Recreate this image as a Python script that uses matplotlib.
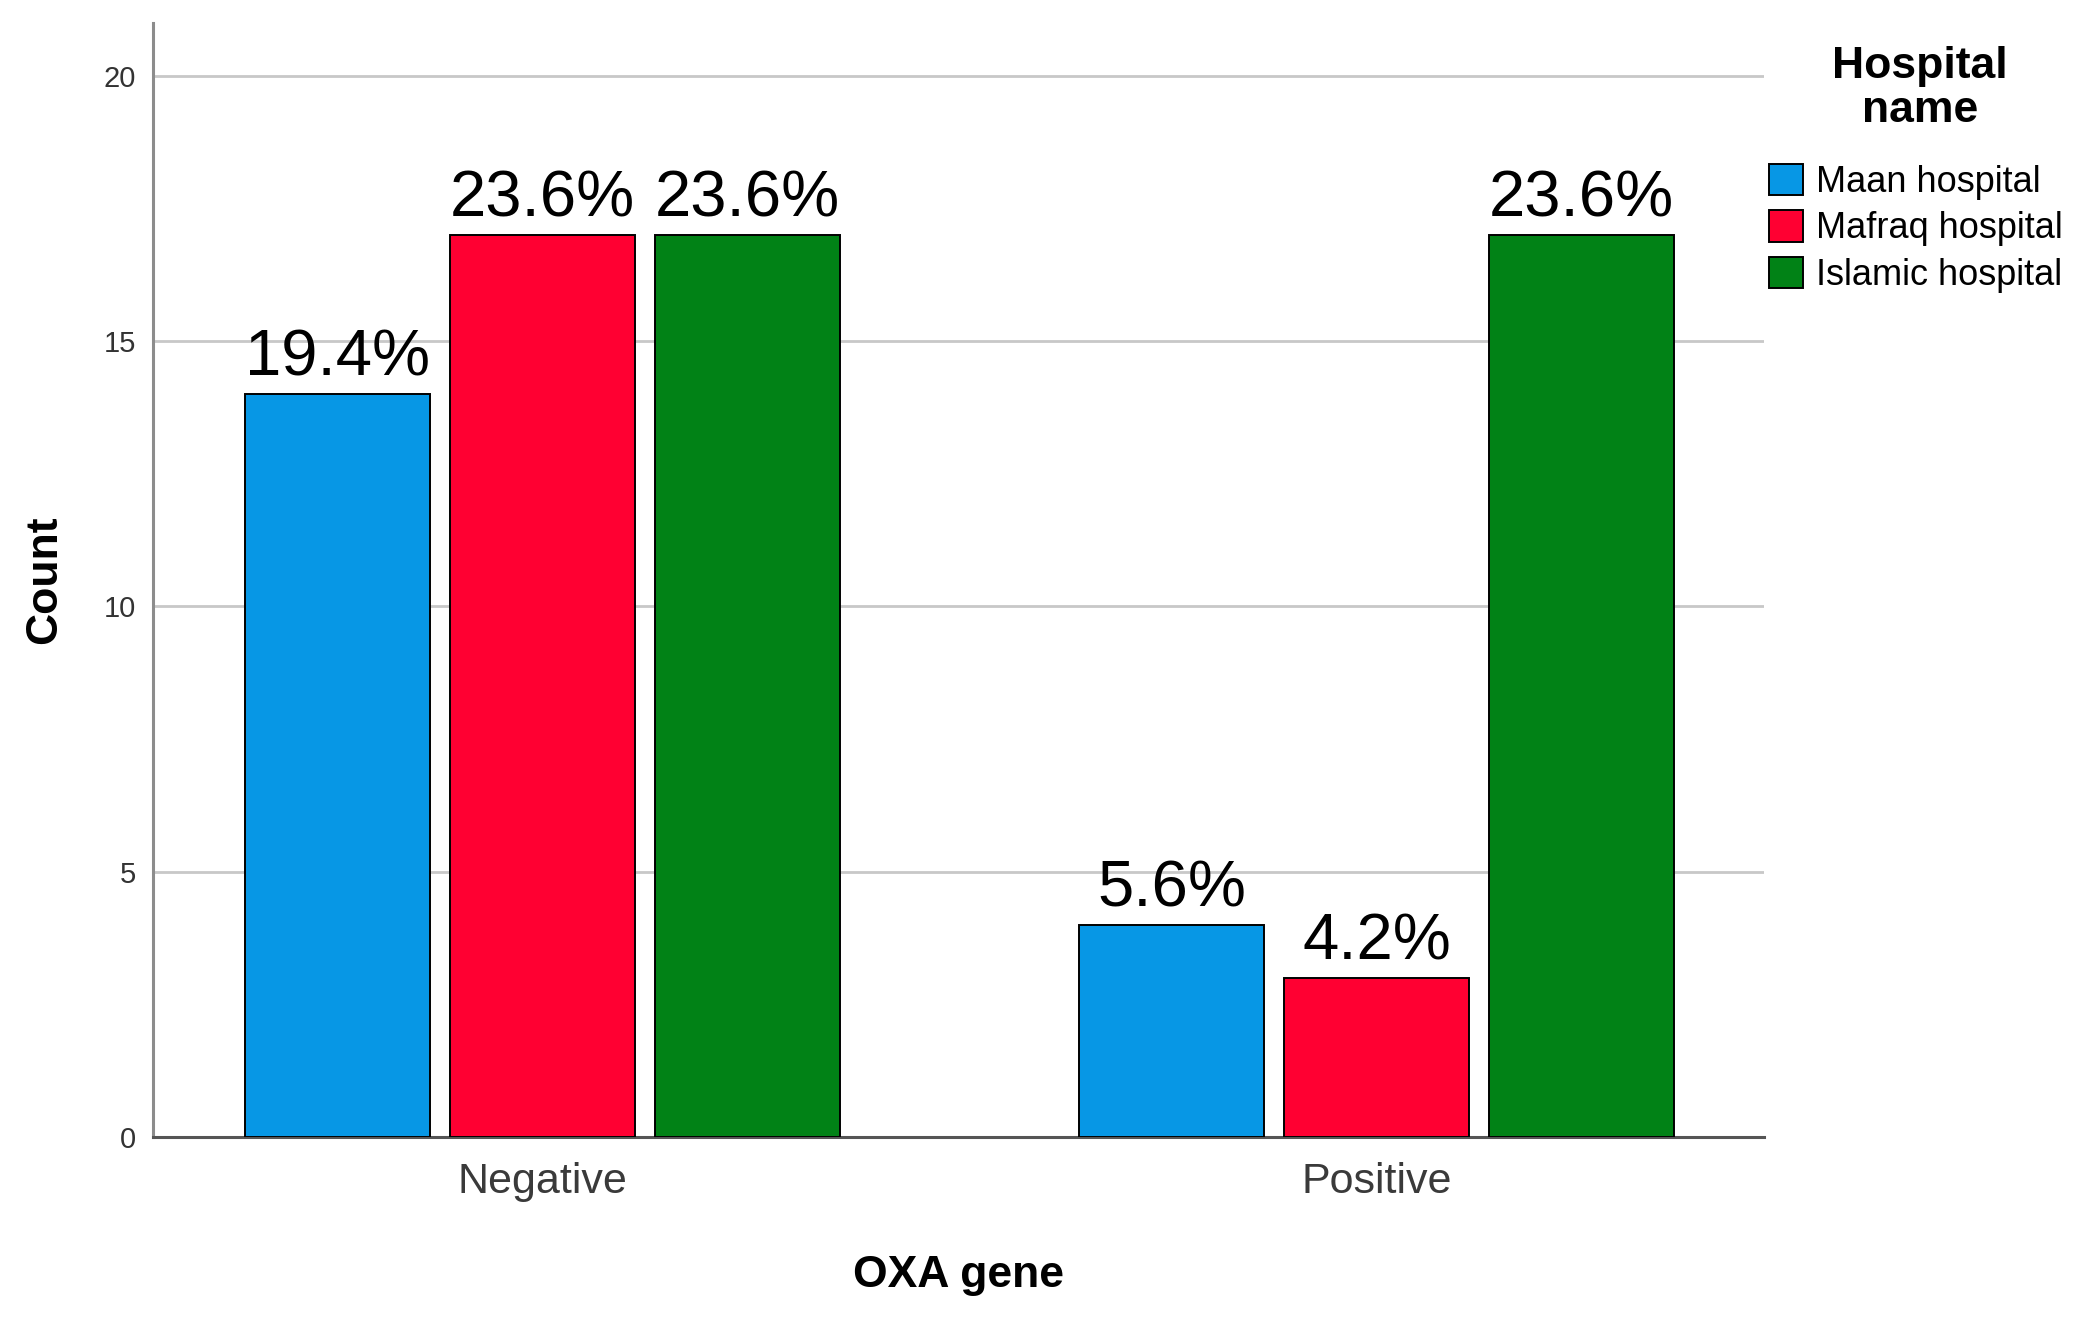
import numpy as np
import matplotlib
matplotlib.use("Agg")
import matplotlib.pyplot as plt
from matplotlib.patches import Patch

plt.rcParams['font.family'] = ['Liberation Sans', 'DejaVu Sans']

# data
categories = ["Negative", "Positive"]
hospitals = ["Maan hospital", "Mafraq hospital", "Islamic hospital"]
maan = [14, 4]
mafraq = [17, 3]
islamic = [17, 17]
pct_labels = [["19.4%", "5.6%"], ["23.6%", "4.2%"], ["23.6%", "23.6%"]]
colors = ["#0797E5", "#FF0032", "#018216"]

fig = plt.figure(figsize=(20.86, 13.19), dpi=100)
ax = fig.add_axes([0.0733, 0.138, 0.7723, 0.8446])

x = np.arange(len(categories))
width = 0.2217
pitch = 0.2456
series = [maan, mafraq, islamic]

for i, vals in enumerate(series):
    pos = x + (i - 1) * pitch
    bars = ax.bar(pos, vals, width=width, color=colors[i], edgecolor="black",
                  linewidth=1.4, zorder=3)
    for b, lab in zip(bars, pct_labels[i]):
        ax.text(b.get_x() + b.get_width() / 2, b.get_height() + 0.1, lab,
                ha="center", va="bottom", fontsize=47, color="black", zorder=4)

ax.set_xlim(-0.467, 1.464)
ax.set_ylim(0, 21)
ax.set_yticks([0, 5, 10, 15, 20])
ax.set_xticks(x)
ax.set_xticklabels(categories)
ax.tick_params(axis="y", length=0, pad=12, labelsize=21, labelcolor="#333333")
ax.tick_params(axis="x", length=0, pad=18, labelsize=31, labelcolor="#3a3a3a")

for yv in [5, 10, 15, 20]:
    ax.axhline(yv, color="#c8c8c8", linewidth=2, zorder=1)

for s in ["top", "right"]:
    ax.spines[s].set_visible(False)
ax.spines["left"].set_color("#8c8c8c")
ax.spines["left"].set_linewidth(2.2)
ax.spines["bottom"].set_color("#555555")
ax.spines["bottom"].set_linewidth(2.2)

ax.set_ylabel("Count", fontsize=32, fontweight="bold", labelpad=28)
ax.set_xlabel("OXA gene", fontsize=32, fontweight="bold", labelpad=38)

# legend title drawn separately so it sits centered above the entries
fig.text(0.9204, 0.933, "Hospital\nname", ha="center", va="center",
         multialignment="center", fontsize=32, fontweight="bold", linespacing=1.1)

handles = [Patch(facecolor=c, edgecolor="black", linewidth=1.4) for c in colors]
leg = fig.legend(handles, hospitals, loc="upper left", bbox_to_anchor=(0.848, 0.876),
                 frameon=False, fontsize=26,
                 handlelength=0.95, handleheight=0.95, handletextpad=0.35,
                 labelspacing=0.3, borderpad=0, borderaxespad=0)

fig.savefig("out.png", dpi=100)
